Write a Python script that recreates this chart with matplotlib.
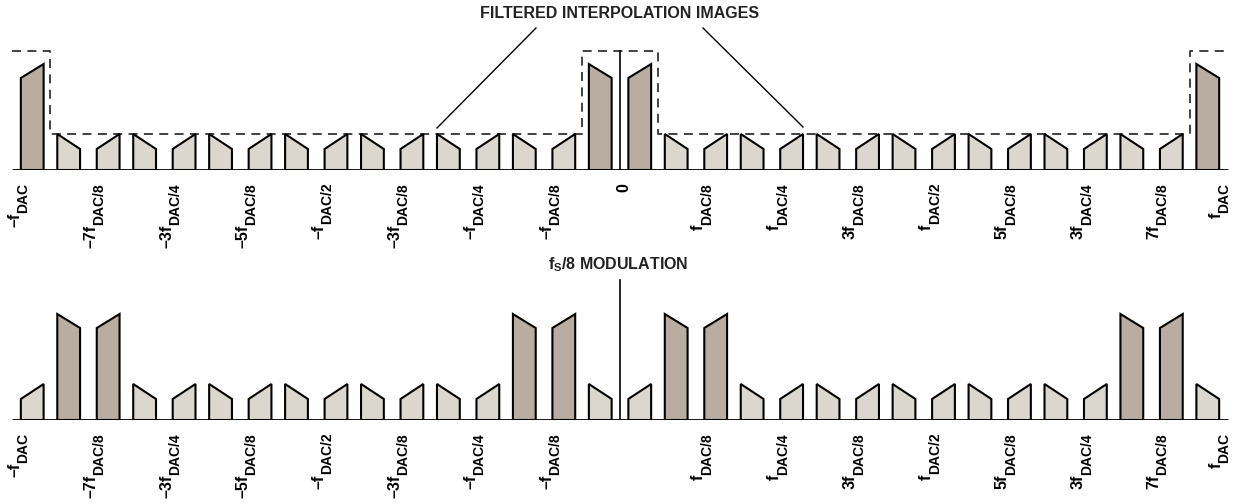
import matplotlib
matplotlib.use("Agg")
import matplotlib.pyplot as plt
from matplotlib.patches import Polygon
from matplotlib.transforms import offset_copy

plt.rcParams['font.family'] = ['Liberation Sans', 'DejaVu Sans']
plt.rcParams['mathtext.fontset'] = 'custom'
plt.rcParams['mathtext.rm'] = 'Liberation Sans:bold'
plt.rcParams['mathtext.it'] = 'Liberation Sans:bold'
plt.rcParams['mathtext.bf'] = 'Liberation Sans:bold'

# image centres, in units of f_DAC/8
centers = list(range(-8, 9))
top_dark = [-8, 0, 8]            # unfiltered signal images (before modulation)
bottom_dark = [-7, -1, 1, 7]     # after fs/8 modulation

# signal band, as offset from each image centre (units of f_DAC/8)
band_lo, band_hi = 0.11, 0.41
dark_amp = (92, 106)    # inner edge, outer edge
light_amp = (21, 36)

# interpolation filter mask
filt_edge = 0.5
filt_hi, filt_lo = 119, 36
center_line_top = (119, 140)

# tick labels: prefix + f + subscript(DAC + suffix)
prefixes = ['\u2013', '\u20137', '\u20133', '\u20135', '\u2013', '\u20133', '\u2013', '\u2013', '',
            '', '', '3', '', '5', '3', '7', '']
suffixes = ['', '/8', '/4', '/8', '/2', '/8', '/4', '/8', '',
            '/8', '/4', '/8', '/2', '/8', '/4', '/8', '']

dark_col = '#b8ada0'
light_col = '#dbd7cf'
px_per_unit = 75.94

fig = plt.figure(figsize=(12.34, 5.04), dpi=100)
xlim = (-620 / px_per_unit, 614 / px_per_unit)
ax_top = fig.add_axes([0, 1 - 170 / 504, 1, 170 / 504])
ax_bot = fig.add_axes([0, 1 - 420 / 504, 1, 170 / 504])
for ax in (ax_top, ax_bot):
    ax.set_xlim(*xlim)
    ax.set_ylim(0, 170)
    ax.axis('off')


def draw_image(ax, c, amp, color):
    inner, outer = amp
    if c - band_hi >= centers[0]:
        ax.add_patch(Polygon([(c - band_hi, 0), (c - band_hi, outer), (c - band_lo, inner), (c - band_lo, 0)],
                             closed=True, fc=color, ec='black', lw=1.5, joinstyle='miter', zorder=2))
    if c + band_hi <= centers[-1]:
        ax.add_patch(Polygon([(c + band_lo, 0), (c + band_lo, inner), (c + band_hi, outer), (c + band_hi, 0)],
                             closed=True, fc=color, ec='black', lw=1.5, joinstyle='miter', zorder=2))


renderer = fig.canvas.get_renderer()


def freq_label(ax, c, i):
    # last label sits inside the right edge
    shift = -14 if c == centers[-1] else 0
    t_sub = offset_copy(ax.transData, fig=fig, x=15 + shift, y=-13, units='dots')
    sub = ax.text(c, 0, 'DAC' + suffixes[i], rotation=90, rotation_mode='anchor',
                  ha='right', va='baseline', fontsize=10, fontweight='bold', transform=t_sub)
    L = sub.get_window_extent(renderer).height
    t_main = offset_copy(ax.transData, fig=fig, x=7 + shift, y=-13 - L, units='dots')
    ax.text(c, 0, prefixes[i] + 'f', rotation=90, rotation_mode='anchor',
            ha='right', va='baseline', fontsize=11.5, fontweight='bold', transform=t_main)


for ax, dark, ctop in ((ax_top, top_dark, center_line_top[0]), (ax_bot, bottom_dark, center_line_top[1])):
    for c in centers:
        if c in dark:
            draw_image(ax, c, dark_amp, dark_col)
        else:
            draw_image(ax, c, light_amp, light_col)
    ax.plot([centers[0], centers[-1]], [0, 0], color='black', lw=2, zorder=3, solid_capstyle='butt')
    ax.plot([0, 0], [0, ctop], color='black', lw=1.2, zorder=3)
    for i, c in enumerate(centers):
        if c == 0:
            continue
        freq_label(ax, c, i)

# "0" label only on the upper spectrum
ax_top.text(0, 0, '0', rotation=90, rotation_mode='anchor', ha='right', va='baseline',
            fontsize=11.5, fontweight='bold',
            transform=offset_copy(ax_top.transData, fig=fig, x=8, y=-13, units='dots'))

# filter mask (dashed)
fx, fy = [centers[0]], [filt_hi]
for c in top_dark:
    lo_edge, hi_edge = c - filt_edge, c + filt_edge
    if lo_edge > centers[0]:
        fx += [lo_edge, lo_edge]
        fy += [filt_lo, filt_hi]
    if hi_edge < centers[-1]:
        fx += [hi_edge, hi_edge]
        fy += [filt_hi, filt_lo]
fx.append(centers[-1])
fy.append(filt_hi)
ax_top.plot(fx, fy, color='#333333', lw=1.3, ls=(0, (5, 3.5)), zorder=1)

# titles and leader lines
ax_top.text(0, 157, 'FILTERED INTERPOLATION IMAGES', ha='center', va='center',
            fontsize=11.5, fontweight='bold', color='#222222')
ax_top.plot([-1.106, -2.41], [142, 42], color='black', lw=1)
ax_top.plot([1.093, 2.41], [142, 43], color='black', lw=1)

ax_bot.text(-0.03, 155, r'$f_S$/8 MODULATION', ha='center', va='center',
            fontsize=11.5, fontweight='bold', color='#222222')

fig.savefig('out.png', dpi=100)
